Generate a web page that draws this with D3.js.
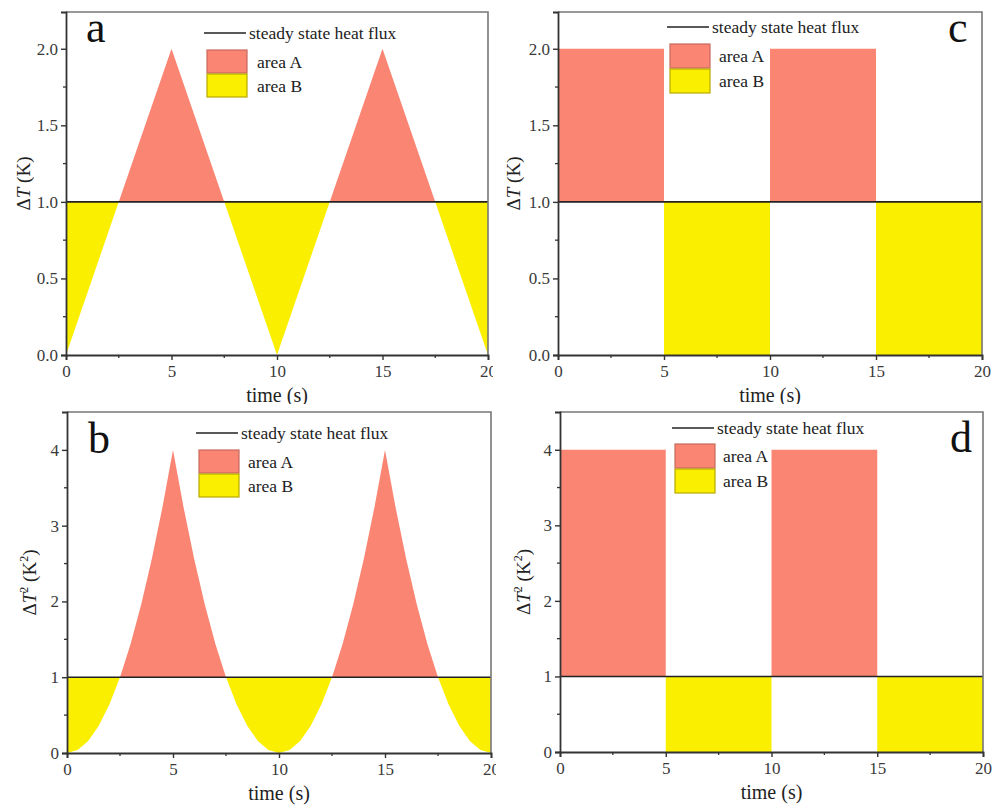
<!DOCTYPE html>
<html>
<head>
<meta charset="utf-8">
<script src="https://cdn.jsdelivr.net/npm/d3@7"></script>
<style>
  html, body { margin: 0; padding: 0; background: #fff; }
  svg { display: block; font-family: "Liberation Serif", "Times New Roman", serif; }
  svg text { font-family: "Liberation Serif", "Times New Roman", serif; }
</style>
</head>
<body>
<svg id="chart" width="992" height="808"></svg>
<script>
// Time samples (s)
const timeTri = [0, 5, 10, 15, 20];
const timeSq = [0, 5, 10, 15, 20];
const timeFine = [0, 0.5, 1, 1.5, 2, 2.5, 3, 3.5, 4, 4.5, 5, 5.5, 6, 6.5, 7, 7.5, 8, 8.5, 9, 9.5,
  10, 10.5, 11, 11.5, 12, 12.5, 13, 13.5, 14, 14.5, 15, 15.5, 16, 16.5, 17, 17.5, 18, 18.5, 19, 19.5, 20];

// (a) triangular temperature difference
const dTriangle = [0, 2, 0, 2, 0];
// (b) squared triangular temperature difference
const dTriangleSq = [0, 0.04, 0.16, 0.36, 0.64, 1.0, 1.44, 1.96, 2.56, 3.24, 4.0, 3.24, 2.56, 1.96, 1.44, 1.0, 0.64, 0.36, 0.16, 0.04,
  0, 0.04, 0.16, 0.36, 0.64, 1.0, 1.44, 1.96, 2.56, 3.24, 4.0, 3.24, 2.56, 1.96, 1.44, 1.0, 0.64, 0.36, 0.16, 0.04, 0];
// (c) square-wave temperature difference
const dSquare = [2, 0, 2, 0, 0];
// (d) squared square-wave temperature difference
const dSquareSq = [4, 0, 4, 0, 0];

// steady state reference levels
const steadyA = 1, steadyB = 1, steadyC = 1, steadyD = 1;

const xTicks = [0, 5, 10, 15, 20];
const yTicksK = [0.0, 0.5, 1.0, 1.5, 2.0];
const yTicksK2 = [0, 1, 2, 3, 4];

const legendLabels = ["steady state heat flux", "area A", "area B"];

const COL_A = "#fa8572";
const COL_B = "#fbef00";
const FONT = "Liberation Serif, Times New Roman, serif";
const svg = d3.select("#chart");

function panel(cfg) {
  const g = svg.append("g");
  const x = d3.scaleLinear().domain([0, 20]).range([cfg.left, cfg.right]);
  const y = d3.scaleLinear().domain([0, cfg.ymax]).range([cfg.bottom, cfg.top]);

  // white panel background
  g.append("rect").attr("x", cfg.bgx).attr("y", cfg.bgy).attr("width", cfg.bgw).attr("height", cfg.bgh).attr("fill", "#fff");

  const data = cfg.t.map((t, i) => ({ t, v: cfg.v[i] }));
  const id = cfg.id;
  const defs = g.append("defs");
  defs.append("clipPath").attr("id", id + "-above").append("rect")
    .attr("x", cfg.left).attr("y", cfg.top).attr("width", cfg.right - cfg.left).attr("height", y(cfg.steady) - cfg.top);
  defs.append("clipPath").attr("id", id + "-below").append("rect")
    .attr("x", cfg.left).attr("y", y(cfg.steady)).attr("width", cfg.right - cfg.left).attr("height", cfg.bottom - y(cfg.steady));

  const area = d3.area().x(d => x(d.t)).y0(y(cfg.steady)).y1(d => y(d.v)).curve(cfg.curve);
  g.append("path").datum(data).attr("d", area).attr("fill", COL_A).attr("clip-path", `url(#${id}-above)`);
  g.append("path").datum(data).attr("d", area).attr("fill", COL_B).attr("clip-path", `url(#${id}-below)`);

  // steady state line
  g.append("line").attr("x1", x(0)).attr("x2", x(20)).attr("y1", y(cfg.steady)).attr("y2", y(cfg.steady))
    .attr("stroke", "#222").attr("stroke-width", 1.6);

  // frame: top and right
  g.append("path").attr("d", `M${cfg.left},${cfg.top}H${cfg.right}V${cfg.bottom}`)
    .attr("fill", "none").attr("stroke", "#777").attr("stroke-width", 1.6);

  // bottom axis
  const xa = g.append("g").attr("transform", `translate(0,${cfg.bottom})`)
    .call(d3.axisBottom(x).tickValues(xTicks).tickSize(5).tickPadding(5).tickFormat(d3.format("d")));
  const minorX = [2.5, 7.5, 12.5, 17.5];
  xa.selectAll(".minor").data(minorX).enter().append("line").attr("class", "minor")
    .attr("x1", d => x(d)).attr("x2", d => x(d)).attr("y1", 0).attr("y2", 3).attr("stroke", "#333").attr("stroke-width", 1.3);

  // left axis
  const ya = g.append("g").attr("transform", `translate(${cfg.left},0)`)
    .call(d3.axisLeft(y).tickValues(cfg.yTicks).tickSize(5).tickPadding(3).tickFormat(cfg.fmt));
  ya.selectAll(".minor").data(cfg.yMinor).enter().append("line").attr("class", "minor")
    .attr("y1", d => y(d)).attr("y2", d => y(d)).attr("x1", 0).attr("x2", -3).attr("stroke", "#333").attr("stroke-width", 1.3);

  [xa, ya].forEach(a => {
    a.attr("font-family", FONT).attr("font-size", 17);
    a.select(".domain").attr("stroke", "#333").attr("stroke-width", 1.8);
    a.selectAll(".tick line").attr("stroke", "#333").attr("stroke-width", 1.4);
    a.selectAll(".tick text").attr("fill", "#3a3a3a");
  });

  // axis titles
  g.append("text").attr("x", (cfg.left + cfg.right) / 2).attr("y", cfg.bottom + 47)
    .attr("text-anchor", "middle").attr("fill", "#222").style("font-size", "20px").text("time (s)");

  const yt = g.append("text").attr("transform", `translate(${cfg.ytx},${(cfg.top + cfg.bottom) / 2}) rotate(-90)`)
    .attr("text-anchor", "middle").attr("fill", "#222").style("font-size", "19px");
  yt.append("tspan").text("\u0394");
  yt.append("tspan").attr("font-style", "italic").text("T");
  if (cfg.squared) {
    yt.append("tspan").attr("dy", -8).style("font-size", "12px").text("2");
    yt.append("tspan").attr("dy", 8).text(" (K");
    yt.append("tspan").attr("dy", -8).style("font-size", "12px").text("2");
    yt.append("tspan").attr("dy", 8).text(")");
  } else {
    yt.append("tspan").text(" (K)");
  }

  // panel letter
  g.append("text").attr("x", cfg.lx).attr("y", cfg.ly).attr("fill", "#111")
    .style("font-size", "44px").text(cfg.letter);

  // legend
  const L = cfg.legend;
  g.append("line").attr("x1", L.x).attr("x2", L.x + 42).attr("y1", L.y).attr("y2", L.y)
    .attr("stroke", "#222").attr("stroke-width", 1.6);
  g.append("text").attr("x", L.x + 45).attr("y", L.y).attr("dy", "0.33em").attr("fill", "#222")
    .style("font-size", "17.5px").text(legendLabels[0]);
  const fills = [[COL_A, "#c86a5e"], [COL_B, "#b8a800"]];
  fills.forEach((f, i) => {
    const ry = L.y + L.r0 + i * L.rh;
    g.append("rect").attr("x", L.x + 3).attr("y", ry).attr("width", 40).attr("height", L.rh - 1)
      .attr("fill", f[0]).attr("stroke", f[1]).attr("stroke-width", 1.2);
    g.append("text").attr("x", L.x + L.tx).attr("y", ry + L.rh / 2).attr("dy", "0.33em").attr("fill", "#222")
      .style("font-size", "17.5px").text(legendLabels[i + 1]);
  });
}

const fmt1 = d3.format(".1f");
const fmt0 = d3.format("d");

panel({ id: "pa", letter: "a", t: timeTri, v: dTriangle, steady: steadyA, curve: d3.curveLinear,
  left: 66, right: 488, top: 12, bottom: 355, ymax: 2.24, yTicks: yTicksK, yMinor: [0.25, 0.75, 1.25, 1.75],
  fmt: fmt1, squared: false, ytx: 30, lx: 86, ly: 42,
  bgx: 0, bgy: 0, bgw: 496, bgh: 404,
  legend: { x: 204, y: 33, r0: 17, rh: 24, tx: 53 } });

panel({ id: "pc", letter: "c", t: timeSq, v: dSquare, steady: steadyC, curve: d3.curveStepAfter,
  left: 558, right: 982, top: 12, bottom: 355, ymax: 2.24, yTicks: yTicksK, yMinor: [0.25, 0.75, 1.25, 1.75],
  fmt: fmt1, squared: false, ytx: 520, lx: 948, ly: 42,
  bgx: 493, bgy: 0, bgw: 499, bgh: 404,
  legend: { x: 667, y: 27, r0: 17, rh: 25, tx: 52 } });

panel({ id: "pb", letter: "b", t: timeFine, v: dTriangleSq, steady: steadyB, curve: d3.curveLinear,
  left: 67, right: 491, top: 412, bottom: 753, ymax: 4.5, yTicks: yTicksK2, yMinor: [0.5, 1.5, 2.5, 3.5],
  fmt: fmt0, squared: true, ytx: 36, lx: 88, ly: 453,
  bgx: 0, bgy: 404, bgw: 496, bgh: 404,
  legend: { x: 196, y: 433, r0: 17, rh: 24, tx: 52 } });

panel({ id: "pd", letter: "d", t: timeSq, v: dSquareSq, steady: steadyD, curve: d3.curveStepAfter,
  left: 560, right: 983, top: 412, bottom: 752, ymax: 4.5, yTicks: yTicksK2, yMinor: [0.5, 1.5, 2.5, 3.5],
  fmt: fmt0, squared: true, ytx: 530, lx: 950, ly: 452,
  bgx: 496, bgy: 404, bgw: 496, bgh: 404,
  legend: { x: 672, y: 428, r0: 16, rh: 25, tx: 51 } });
</script>
</body>
</html>
